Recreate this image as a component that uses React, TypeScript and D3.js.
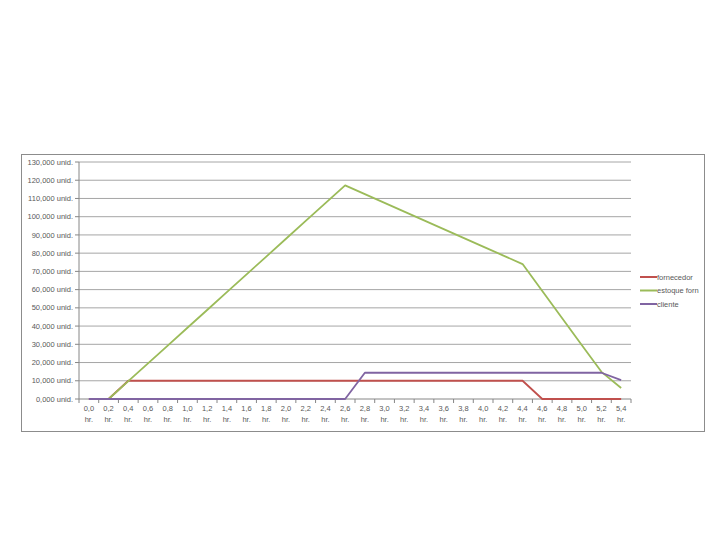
import React from "react";
import * as d3 from "d3";

const categories = ["0,0","0,2","0,4","0,6","0,8","1,0","1,2","1,4","1,6","1,8","2,0","2,2","2,4","2,6","2,8","3,0","3,2","3,4","3,6","3,8","4,0","4,2","4,4","4,6","4,8","5,0","5,2","5,4"];
const fornecedor = [0,0,10000,10000,10000,10000,10000,10000,10000,10000,10000,10000,10000,10000,10000,10000,10000,10000,10000,10000,10000,10000,10000,0,0,0,0,0];
const estoqueForn = [null,0,9770,19530,29300,39070,48830,58600,68370,78130,87900,97670,107430,117200,112400,107600,102800,98000,93200,88400,83600,78800,74000,59200,44400,29600,14900,6000];
const cliente = [0,0,0,0,0,0,0,0,0,0,0,0,0,0,14400,14400,14400,14400,14400,14400,14400,14400,14400,14400,14400,14400,14400,10400];
const yTicks = [0,10000,20000,30000,40000,50000,60000,70000,80000,90000,100000,110000,120000,130000];
const seriesNames = ["fornecedor","estoque forn","cliente"];
const seriesColors = ["#c0504d","#9bbb59","#8064a2"];

const FONT = "'Liberation Sans', Arial, sans-serif";

export default function App() {
  const left = 79, right = 631, top = 162, bottom = 399;
  const x = d3.scaleBand<string>().domain(categories).range([left, right]);
  const y = d3.scaleLinear().domain([0, 130000]).range([bottom, top]);
  const label = (v: number) => `${Math.floor(v / 1000)},000 unid.`;
  const cx = (i: number) => (x(categories[i]) as number) + x.bandwidth() / 2;
  const line = d3.line<number | null>()
    .defined((d) => d !== null)
    .x((_, i) => cx(i))
    .y((d) => y(d as number));
  const allSeries = [fornecedor, estoqueForn, cliente];
  const ticksX = d3.range(categories.length + 1).map((i) => left + i * x.bandwidth());
  return (
    <svg width={720} height={540} style={{ position: "absolute", left: 0, top: 0 }}>
      <rect x={0} y={0} width={720} height={540} fill="#fff" />
      <rect x={21.5} y={154.5} width={683} height={277} fill="#fff" stroke="#8c8c8c" strokeWidth={1} />
      {yTicks.map((t) => (
        <g key={t}>
          {t > 0 && <line x1={left} x2={right} y1={y(t)} y2={y(t)} stroke="#a6a6a6" strokeWidth={1} />}
          <line x1={left - 4} x2={left} y1={y(t)} y2={y(t)} stroke="#868686" />
          <text x={73} y={y(t)} dy="0.35em" textAnchor="end" fontFamily={FONT} fontSize={7.5} fill="#595959">{label(t)}</text>
        </g>
      ))}
      <line x1={left} x2={left} y1={top} y2={bottom} stroke="#868686" />
      <line x1={left} x2={right} y1={bottom} y2={bottom} stroke="#868686" />
      {ticksX.map((tx, i) => (
        <line key={i} x1={tx} x2={tx} y1={bottom} y2={bottom + 4} stroke="#868686" />
      ))}
      {categories.map((c, i) => (
        <text key={c} x={cx(i)} textAnchor="middle" fontFamily={FONT} fontSize={7.5} fill="#595959">
          <tspan x={cx(i)} y={411}>{c}</tspan>
          <tspan x={cx(i)} y={422}>hr.</tspan>
        </text>
      ))}
      {allSeries.map((s, k) => (
        <path key={k} d={line(s) || ""} fill="none" stroke={seriesColors[k]} strokeWidth={1.8} strokeLinejoin="round" />
      ))}
      {seriesNames.map((n, k) => (
        <g key={n}>
          <line x1={640} x2={657} y1={277 + k * 13.5} y2={277 + k * 13.5} stroke={seriesColors[k]} strokeWidth={2} />
          <text x={657} y={277 + k * 13.5} dy="0.35em" fontFamily={FONT} fontSize={7.5} fill="#595959">{n}</text>
        </g>
      ))}
    </svg>
  );
}
